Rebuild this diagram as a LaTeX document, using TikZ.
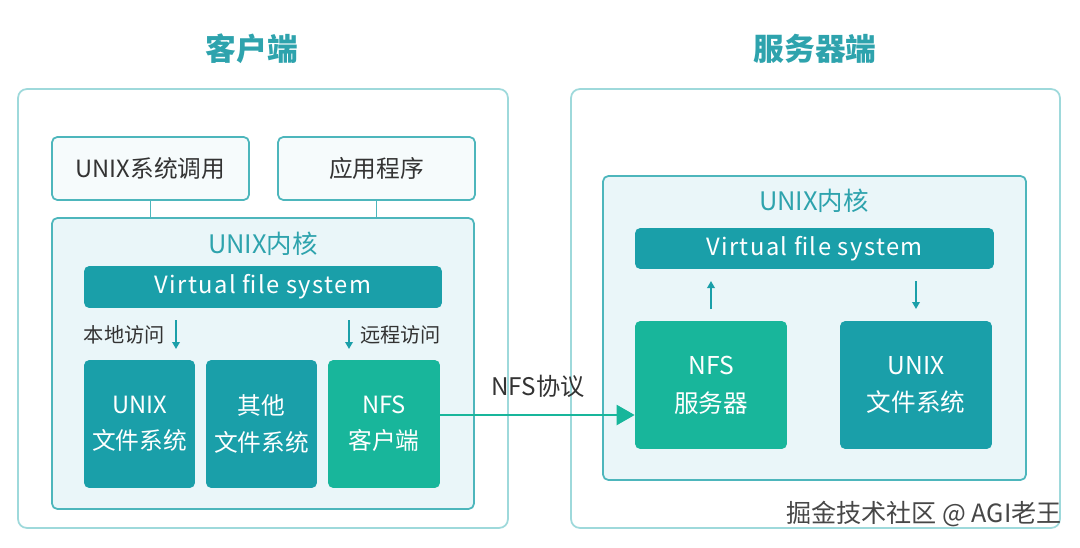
\documentclass[tikz,border=0pt]{standalone}
\usepackage{fontspec}
\setmainfont{Noto Sans CJK SC}
\usepackage{tikz}
\usetikzlibrary{arrows.meta, positioning, calc}

\definecolor{paleline}{HTML}{9ED9DB}
\definecolor{boxline}{HTML}{4DB6BC}
\definecolor{kernfill}{HTML}{EAF6F9}
\definecolor{topfill}{HTML}{F6FBFC}
\definecolor{darkteal}{HTML}{1A9FA9}
\definecolor{nfsgreen}{HTML}{18B69B}
\definecolor{titleteal}{HTML}{2EA3AD}
\definecolor{textgray}{HTML}{333333}

\begin{document}
\begin{tikzpicture}[
  x=0.02cm, y=-0.02cm,
  outer/.style={rectangle, draw=paleline, fill=white, line width=1pt, rounded corners=5pt},
  callbox/.style={rectangle, draw=boxline, fill=topfill, line width=1pt, rounded corners=3pt,
    minimum width=3.94cm, minimum height=1.26cm, text=textgray, font=\fontsize{13.5}{16}\selectfont},
  kernel/.style={rectangle, draw=boxline, fill=kernfill, line width=1pt, rounded corners=3pt},
  vfs/.style={rectangle, fill=darkteal, rounded corners=3pt, text=white,
    font=\fontsize{13.5}{16}\selectfont\addfontfeature{LetterSpace=6}},
  fsbox/.style={rectangle, fill=darkteal, rounded corners=3pt, text=white, align=center,
    minimum height=2.56cm, font=\fontsize{13.5}{20.5}\selectfont},
  nfsbox/.style={fsbox, fill=nfsgreen},
  bigtext/.style={font=\fontsize{14}{21.5}\selectfont},
  ktitle/.style={text=titleteal, font=\fontsize{14.5}{17}\selectfont},
  side/.style={text=textgray, font=\fontsize{11.5}{13}\selectfont},
  arr/.style={-{Triangle[length=0.36cm, width=0.4cm]}, draw=nfsgreen, fill=nfsgreen, line width=1.3pt},
  small/.style={-{Triangle[length=0.14cm, width=0.15cm]}, draw=darkteal, line width=1pt},
  link/.style={draw=boxline, line width=1pt}
]
\useasboundingbox (0,0) rectangle (1080,548);

% client side
\node[text=titleteal, font=\fontsize{17.5}{20}\selectfont\bfseries] (ctitle) at (252,49) {客户端};
\node[outer, minimum width=9.8cm, minimum height=8.78cm] (cli) at (263,308.5) {};
\node[callbox] (call) at (150.5,168.5) {UNIX系统调用};
\node[callbox] (app) at (376.5,168.5) {应用程序};
\node[kernel, minimum width=8.44cm, minimum height=5.82cm] (lkern) at (263,363.5) {};
\node[ktitle] (lktitle) at (263,244) {UNIX内核};
\node[vfs, minimum width=7.16cm, minimum height=0.84cm] (lvfs) at (263,287) {Virtual file system};
\node[fsbox, minimum width=2.22cm] (ufs) at (139.5,424) {UNIX\\文件系统};
\node[fsbox, minimum width=2.22cm] (ofs) at (261.5,424) {其他\\文件系统};
\node[nfsbox, minimum width=2.24cm] (nfsc) at (384,424) {NFS\\客户端};

\draw[link] (call.south) -- (call.south |- lkern.north);
\draw[link] (app.south) -- (app.south |- lkern.north);

\coordinate (la1) at (176,320);
\coordinate (la2) at (176,349);
\coordinate (ra1) at (349,320);
\coordinate (ra2) at (349,349);
\draw[small] (la1) -- (la2);
\draw[small] (ra1) -- (ra2);
\node[side, left=0.1cm of {$(la1)!0.5!(la2)$}] (local) {本地访问};
\node[side, right=0.1cm of {$(ra1)!0.5!(ra2)$}] (remote) {远程访问};

% server side
\node[text=titleteal, font=\fontsize{17.5}{20}\selectfont\bfseries] (stitle) at (815,49) {服务器端};
\node[outer, minimum width=9.78cm, minimum height=8.78cm] (srv) at (815.5,308.5) {};
\node[kernel, minimum width=8.46cm, minimum height=6.08cm] (rkern) at (814.5,328) {};
\node[ktitle] (rktitle) at (814,201) {UNIX内核};
\node[vfs, minimum width=7.18cm, minimum height=0.82cm] (rvfs) at (814.5,248.5) {Virtual file system};
\node[nfsbox, bigtext, minimum width=3.04cm] (nfss) at (711,385) {NFS\\服务器};
\node[fsbox, bigtext, minimum width=3.04cm] (rufs) at (916,385) {UNIX\\文件系统};

\coordinate (ua1) at (711,309);
\coordinate (ua2) at (711,281);
\coordinate (da1) at (916,281);
\coordinate (da2) at (916,309);
\draw[small] (ua1) -- (ua2);
\draw[small] (da1) -- (da2);

% protocol
\coordinate (p) at ([yshift=0.18cm]nfsc.east);
\draw[arr] (p) -- (p -| nfss.west);
\node[text=textgray, font=\fontsize{13.8}{16}\selectfont] (proto) at (538,386) {NFS协议};

\node[text=black!72, font=\fontsize{14.3}{16}\selectfont] (mark) at (924,514) {掘金技术社区 @ AGI老王};
\end{tikzpicture}
\end{document}
